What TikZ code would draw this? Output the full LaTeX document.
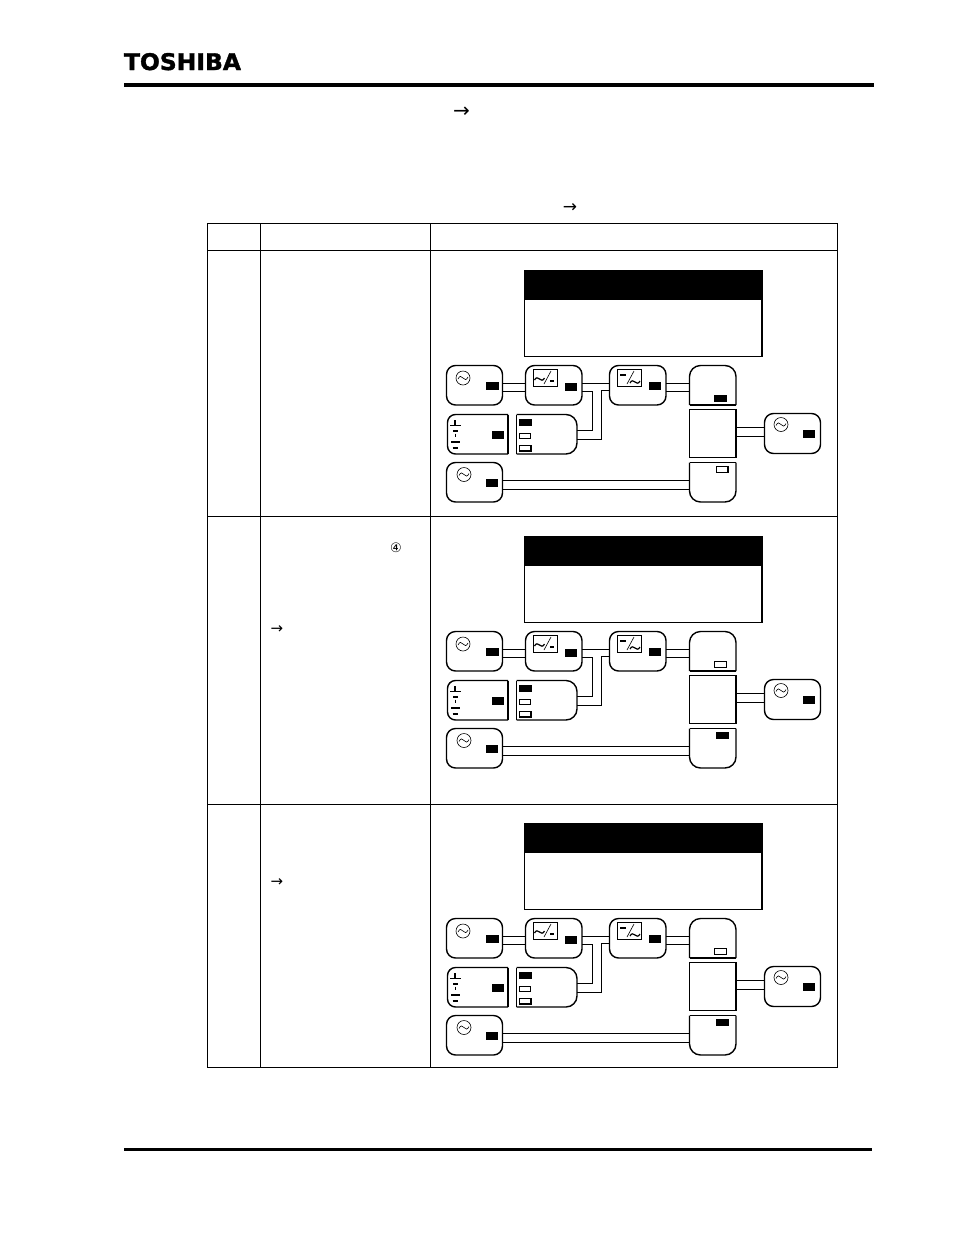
\documentclass[tikz,border=0pt]{standalone}
\usepackage{graphicx}
\usepackage{fontspec}
\setmainfont{DejaVu Sans}
\newfontfamily\logofont[FakeBold=1.5]{DejaVu Sans Bold}
\usetikzlibrary{calc}
\tikzset{
  every node/.style={inner sep=0pt,outer sep=0pt},
  unit/.style={draw=black,line width=1.4pt,fill=white,rounded corners=9pt,anchor=north west},
  plainbox/.style={draw=black,line width=1.2pt,fill=white,anchor=north west},
  ghost/.style={anchor=north west},
  symbox/.style={draw=black,line width=0.9pt,anchor=north west},
  ledon/.style={draw=black,fill=black,line width=0.8pt,anchor=north west},
  ledoff/.style={draw=black,fill=white,line width=1.3pt,anchor=north west},
  wire/.style={draw=black,line width=1.4pt},
  outline/.style={draw=black,line width=1.4pt},
  sym/.style={draw=black,line width=0.6pt},
  symthick/.style={draw=black,line width=1.2pt},
  tablerule/.style={draw=black,line width=1.2pt},
  headrule/.style={fill=black,draw=none},
  arrowtext/.style={anchor=center}
}
% box: style, name, position, width, height
\newcommand{\bx}[5]{\node[#1,minimum width=#4 pt,minimum height=#5 pt] (#2) at (#3) {};}
\newcommand{\acsym}[2]{%
  \draw[sym] (#1,#2) circle (7);
  \draw[sym,shift={(#1,#2)}] (-5,1) .. controls (-3.5,-2.5) and (-1.5,-2) .. (0,0) .. controls (1.5,2) and (3.5,2.5) .. (5,-1);
}
\newcommand{\tld}[2]{%
  \draw[symthick,shift={(#1,#2)}] (-5,1) .. controls (-3.5,-2) and (-1.5,-1.5) .. (0,0) .. controls (1.5,1.5) and (3.5,2) .. (5,-1);
}
\newcommand{\panel}[4]{% prefix, dy, top output led, bottom output led
\begin{scope}[shift={(0,#2)}]
  % display
  \node[plainbox,minimum width=237.5pt,minimum height=86pt] (#1-screen) at (524.5,270.5) {};
  \node[anchor=north west,fill=black,minimum width=237.5pt,minimum height=29.5pt] (#1-title) at (524.5,270.5) {};
  % units
  \bx{unit}{#1-ac}{446.5,365.5}{56}{39.5}
  \bx{unit}{#1-rect}{525.5,365.5}{56.5}{39.5}
  \bx{unit}{#1-inv}{609.5,365.5}{56.5}{39.5}
  \bx{ghost}{#1-out}{689.5,365.5}{46.5}{40}
  \bx{plainbox}{#1-mid}{689.5,409.5}{46.5}{48}
  \bx{unit}{#1-acr}{764.5,413.5}{56}{40}
  \bx{ghost}{#1-bat}{447.5,414.5}{60.5}{39.5}
  \bx{ghost}{#1-brk}{516.5,414.5}{60.5}{39.5}
  \bx{unit}{#1-acb}{446.5,462.5}{56}{39.5}
  \bx{ghost}{#1-byp}{689.5,462.5}{46.5}{39.5}
  % connectors
  \draw[wire] (#1-ac.east |- 0,383.5) -- (#1-rect.west |- 0,383.5);
  \draw[wire] (#1-ac.east |- 0,391.5) -- (#1-rect.west |- 0,391.5);
  \draw[wire] (#1-rect.east |- 0,383.5) -- (#1-inv.west |- 0,383.5);
  \draw[wire] (#1-rect.east |- 0,391.5) -- (592.5,391.5) -- (592.5,430.5) -- (#1-brk.east |- 0,430.5);
  \draw[wire] (#1-inv.west |- 0,390.5) -- (601.5,390.5) -- (601.5,439.5) -- (#1-brk.east |- 0,439.5);
  \draw[wire] (#1-inv.east |- 0,383.5) -- (#1-out.west |- 0,383.5);
  \draw[wire] (#1-inv.east |- 0,391.5) -- (#1-out.west |- 0,391.5);
  \draw[wire] (#1-mid.east |- 0,427.5) -- (#1-acr.west |- 0,427.5);
  \draw[wire] (#1-mid.east |- 0,436.5) -- (#1-acr.west |- 0,436.5);
  \draw[wire] (#1-acb.east |- 0,480.5) -- (#1-byp.west |- 0,480.5);
  \draw[wire] (#1-acb.east |- 0,489.5) -- (#1-byp.west |- 0,489.5);
  % shaped outlines
  \draw[outline,rounded corners=11pt] (689.5,405) -- (689.5,365.5) -- (736,365.5) -- (736,405);
  \draw[outline] (689.5,405) -- (736,405);
  \draw[outline,rounded corners=8pt] (508,414.5) -- (447.5,414.5) -- (447.5,454) -- (508,454);
  \draw[outline] (508,414.5) -- (508,454);
  \draw[outline,rounded corners=11pt] (516.5,414.5) -- (577,414.5) -- (577,454) -- (516.5,454);
  \draw[outline] (516.5,414.5) -- (516.5,454);
  \draw[outline,rounded corners=11pt] (736,462.5) -- (736,502) -- (689.5,502) -- (689.5,462.5);
  \draw[outline] (689.5,462.5) -- (736,462.5);
  % symbols
  \acsym{463}{378}
  \acsym{781}{424.5}
  \acsym{464}{474.5}
  \bx{symbox}{#1-rsym}{533.5,369.5}{23.5}{17}
  \tld{539.5}{379}
  \draw[sym] (544,384) -- (551,371);
  \draw[symthick] (550,381) -- (554,381);
  \bx{symbox}{#1-isym}{617.5,369.5}{24}{17}
  \draw[symthick] (620,375) -- (625.5,375);
  \draw[sym] (627,384) -- (634,371);
  \tld{635}{382}
  % battery symbol
  \draw[symthick] (455,420) -- (455,425.5) (450,425.5) -- (461,425.5);
  \draw[symthick] (453,431) -- (458,431);
  \draw[sym] (455,433.5) -- (455,437);
  \draw[symthick] (451,442) -- (460,442);
  \draw[symthick] (452.5,448) -- (457.5,448);
  % indicators
  \bx{ledon}{#1-l1}{486.5,382}{12}{7}
  \bx{ledon}{#1-l2}{565.5,383.5}{11}{6.5}
  \bx{ledon}{#1-l3}{649.5,382.5}{11}{7}
  \bx{#3}{#1-l4}{714.5,395.5}{12}{6}
  \bx{ledon}{#1-l5}{803.5,430.5}{11}{6.5}
  \bx{ledon}{#1-l6}{492.5,431.5}{11}{6.5}
  \bx{ledon}{#1-l7}{519.5,419}{12}{6}
  \bx{ledoff}{#1-l8}{519.5,433.5}{11}{5}
  \bx{ledoff}{#1-l9}{519.5,445.5}{11.5}{5.5}
  \bx{ledon}{#1-l10}{486.5,479.5}{11}{7}
  \bx{#4}{#1-l11}{716.5,466.5}{11.5}{6}
\end{scope}}
\begin{document}
\begin{tikzpicture}[x=1pt,y=-1pt]
  \useasboundingbox[fill=white] (0,0) rectangle (954,1235);
  % header
  \node[anchor=north west] (logo) at (124,53) {\resizebox{117pt}{17pt}{\logofont TOSHIBA}};
  \node[headrule,anchor=north west,minimum width=750pt,minimum height=4pt] (toprule) at (124,83) {};
  \node[headrule,anchor=north west,minimum width=748pt,minimum height=3pt] (botrule) at (124,1148) {};
  \node[arrowtext,font=\fontsize{20}{20}\selectfont] (arr1) at (461.5,112.5) {→};
  \node[arrowtext,font=\fontsize{17}{17}\selectfont] (arr2) at (570,208) {→};
  \node[arrowtext,font=\fontsize{15}{15}\selectfont] (arr3) at (277,629.5) {→};
  \node[arrowtext,font=\fontsize{15}{15}\selectfont] (arr4) at (277,882.5) {→};
  \node[arrowtext,font=\fontsize{13}{13}\selectfont] (num4) at (396,547.5) {④};
  % table
  \draw[tablerule] (207.5,223.5) rectangle (837.5,1067.5);
  \draw[tablerule] (260.5,223.5) -- (260.5,1067.5);
  \draw[tablerule] (430.5,223.5) -- (430.5,1067.5);
  \draw[tablerule] (207.5,250.5) -- (837.5,250.5);
  \draw[tablerule] (207.5,516.5) -- (837.5,516.5);
  \draw[tablerule] (207.5,804.5) -- (837.5,804.5);
  % panels
  \panel{a}{0}{ledon}{ledoff}
  \panel{b}{266}{ledoff}{ledon}
  \panel{c}{553}{ledoff}{ledon}
\end{tikzpicture}
\end{document}
